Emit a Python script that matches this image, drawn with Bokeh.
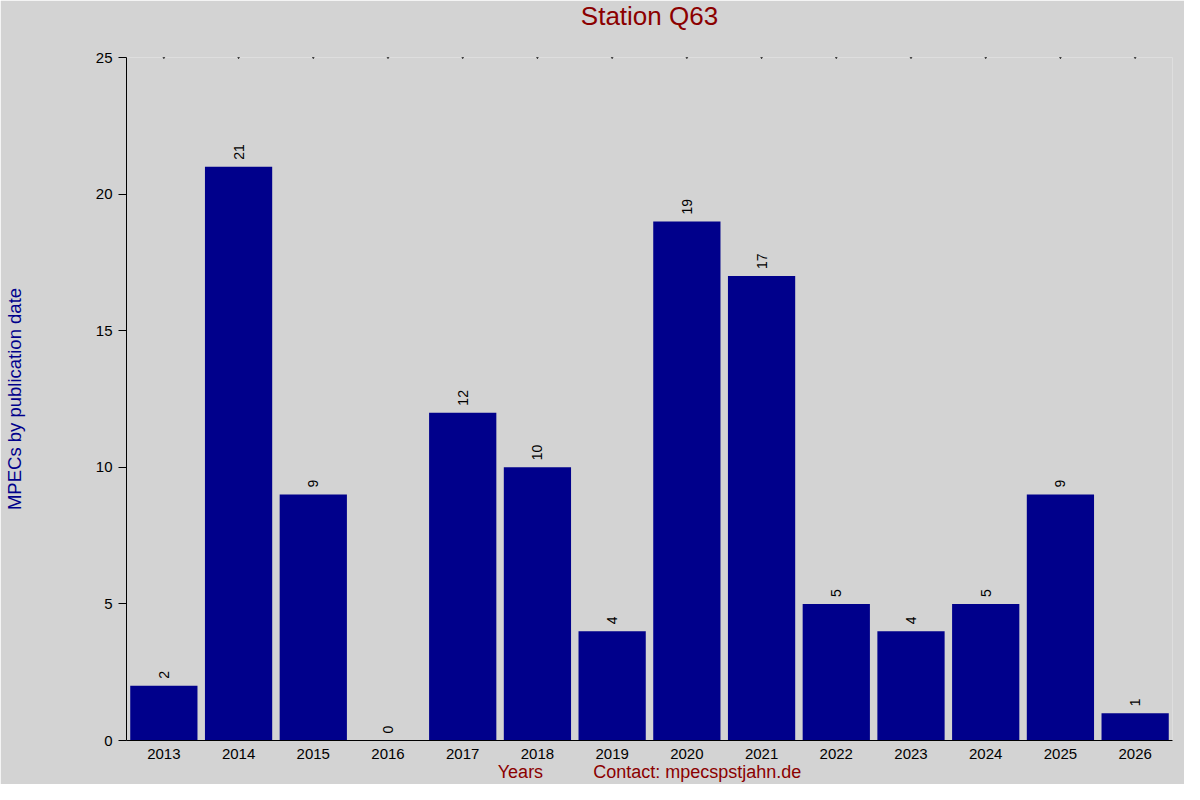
from bokeh.plotting import figure
from bokeh.models import ColumnDataSource, Range1d, Title
from bokeh.embed import file_html
from bokeh.resources import INLINE
from bokeh.core.properties import value

years = ["2013", "2014", "2015", "2016", "2017", "2018", "2019", "2020",
         "2021", "2022", "2023", "2024", "2025", "2026"]
counts = [2, 21, 9, 0, 12, 10, 4, 19, 17, 5, 4, 5, 9, 1]
y_max = 25
y_ticks = [0, 5, 10, 15, 20, 25]

title_text = "Station Q63"
y_label = "MPECs by publication date"
x_label = "Years"
contact = "Contact: mpecspstjahn.de"

BG = "#d3d3d3"
BAR = "#00008b"
RED = "#8b0000"
FONT = "Liberation Sans"

src = ColumnDataSource(dict(years=years, counts=counts,
                            labels=[str(c) for c in counts],
                            top=[y_max] * len(years)))

p = figure(width=1184, height=784, x_range=years, y_range=Range1d(0, y_max),
           output_backend="svg", toolbar_location=None, title=None,
           min_border_left=126, min_border_right=12,
           min_border_top=56, min_border_bottom=33)

p.background_fill_color = BG
p.border_fill_color = BG
p.outline_line_color = None
p.grid.visible = False

# spacer between frame and title (added first -> closest to the frame)
p.add_layout(Title(text=" ", text_font_size="15px", standoff=6,
                   text_color=BG), "above")
p.add_layout(Title(text=title_text, align="center", vertical_align="top",
                   text_color=RED, text_font=FONT, text_font_size="26px",
                   text_font_style="normal", standoff=0), "above")

p.vbar(x="years", top="counts", width=0.9, source=src,
       fill_color=BAR, line_color=None)

p.text(x="years", y="counts", text="labels", source=src, angle=1.5708,
       text_align="left", text_baseline="middle", y_offset=-7,
       text_font=value(FONT), text_font_size="14px", text_color="black")

p.scatter(x="years", y="top", source=src, size=1.5, color="black",
          marker="circle")

xa = p.xaxis[0]
xa.major_tick_line_color = None
xa.minor_tick_line_color = None
xa.axis_line_color = "black"
xa.major_label_text_font = FONT
xa.major_label_text_font_size = "15px"
xa.major_label_text_color = "black"
xa.major_label_standoff = 2
xa.axis_label = x_label + "\u00a0" * 10 + contact
xa.axis_label_text_color = RED
xa.axis_label_text_font = FONT
xa.axis_label_text_font_size = "18px"
xa.axis_label_text_font_style = "normal"
xa.axis_label_standoff = 0

ya = p.yaxis[0]
ya.ticker = y_ticks
ya.major_tick_in = 0
ya.major_tick_out = 8
ya.minor_tick_line_color = None
ya.axis_line_color = "black"
ya.major_label_text_font = FONT
ya.major_label_text_font_size = "15px"
ya.major_label_text_color = "black"
ya.major_label_standoff = 6
ya.axis_label = y_label
ya.axis_label_text_color = BAR
ya.axis_label_text_font = FONT
ya.axis_label_text_font_size = "18.5px"
ya.axis_label_text_font_style = "normal"
ya.axis_label_standoff = 68

open("out.html", "w").write(file_html(p, INLINE))
